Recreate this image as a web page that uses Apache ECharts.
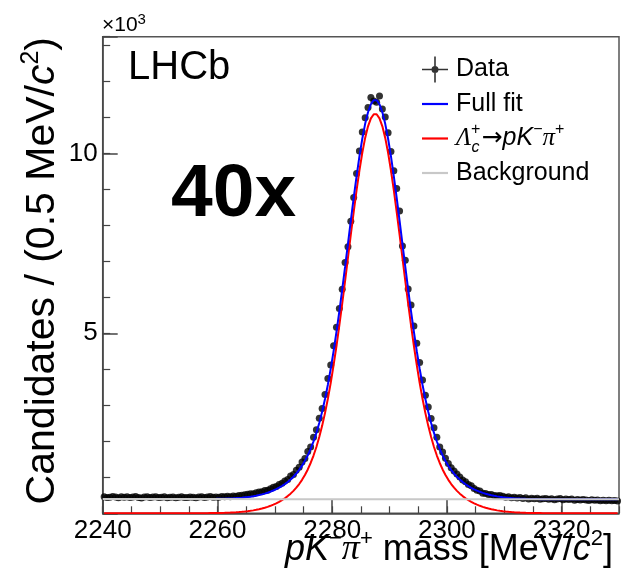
<!DOCTYPE html>
<html><head><meta charset="utf-8">
<script src="https://cdn.jsdelivr.net/npm/echarts@6/dist/echarts.min.js"></script>
<style>html,body{margin:0;padding:0;background:#fff}#c{width:623px;height:584px}</style>
</head><body><div id="c"></div>
<script>
// ---- data ----
const massMin = 2240, massMax = 2330, binWidth = 0.5;
const xTickValues = [2240, 2260, 2280, 2300, 2320];
const yTickValues = [5000, 10000];
const yTickLabels = ['5', '10'];

const counts = [458,441,446,466,451,431,457,444,462,437,
453,466,442,428,451,458,436,450,462,439,
446,457,435,449,455,432,446,461,441,436,
450,446,432,454,460,440,452,465,445,456,
449,469,459,472,459,481,477,497,502,516,
531,545,545,568,593,598,636,642,684,727,
747,800,832,897,939,1033,1081,1195,1281,1422,
1521,1715,1844,2111,2319,2642,2914,3297,3744,4117,
4656,5168,5690,6224,6964,7407,8111,8770,9440,10064,
10595,10989,11272,11554,11457,11420,11594,11230,11010,10570,
10051,9517,9020,8400,7424,7031,6231,5787,5205,4722,
4191,3702,3279,2955,2633,2379,2111,1844,1700,1530,
1380,1268,1177,1093,1006,928,873,800,762,691,
640,620,556,548,525,520,492,487,493,476,
449,463,434,448,426,438,412,430,397,415,
404,420,393,403,413,392,405,379,398,409,
377,395,380,396,366,383,368,386,369,355,
378,360,371,350,364,349,364,347,358,345];

const signalFit = [0,0,0,0,0,0,0,0,0,0,
0,0,0,0,0,0,0,0,0,0,
0,0,0,0,0,0,0,0,0,0,
0,1,1,2,2,3,4,5,6,7,
9,11,13,16,19,23,28,34,41,49,
58,69,81,96,113,132,154,179,208,240,
277,318,365,418,478,546,623,712,813,930,
1064,1219,1398,1605,1843,2117,2429,2783,3181,3625,
4114,4647,5219,5823,6453,7096,7740,8369,8969,9523,
10014,10428,10751,10973,11086,11086,10973,10751,10428,10014,
9523,8969,8369,7740,7096,6453,5823,5219,4647,4114,
3625,3181,2783,2429,2117,1843,1605,1398,1219,1064,
930,813,712,623,546,478,418,365,318,277,
240,208,179,154,132,113,96,81,69,58,
49,41,34,28,23,19,16,13,11,9,
7,6,5,4,3,2,2,1,1,0,
0,0,0,0,0,0,0,0,0,0,
0,0,0,0,0,0,0,0,0,0];

const fullFit = [396,396,396,396,396,396,396,396,396,396,
396,395,395,395,395,395,395,395,395,395,
395,395,395,395,395,395,395,395,395,395,
395,395,395,396,396,397,398,399,400,401,
403,405,407,410,413,417,422,428,435,443,
452,462,474,489,506,525,547,572,601,633,
670,711,758,811,871,939,1016,1105,1206,1323,
1457,1611,1790,1997,2235,2509,2821,3175,3573,4017,
4506,5039,5611,6215,6845,7488,8132,8761,9361,9915,
10406,10819,11142,11364,11477,11477,11364,11142,10819,10405,
9914,9360,8760,8131,7487,6844,6214,5610,5038,4505,
4016,3571,3173,2819,2507,2233,1995,1788,1609,1454,
1320,1203,1102,1013,936,868,808,755,708,667,
630,597,568,543,521,502,485,470,458,447,
438,430,423,417,412,408,405,402,400,398,
396,394,393,392,391,390,390,389,389,388,
388,388,388,388,388,388,388,388,388,388,
388,387,387,387,387,387,387,387,387,387];

const bgMass = [2240,2250,2260,2270,2280,2290,2300,2310,2320,2330];
const bgValues = [396,395,394,393,392,391,390,389,388,387];

// ---- build ----
const binCentres = counts.map((_, i) => massMin + binWidth * (i + 0.5));
const pairs = (xs, ys) => ys.map((y, i) => [xs[i], y]);

const FONT = 'Liberation Sans';
const chart = echarts.init(document.getElementById('c'), null, {renderer: 'canvas'});

const tickColor = '#444';
const dataIcon = 'path://M0,12.2H26V13.8H0Z M12.2,0H13.8V26H12.2Z M16.5,13A3.5,3.5 0 1 1 9.5,13A3.5,3.5 0 1 1 16.5,13Z';
const lineIcon = 'path://M0,0H26V2.2H0Z';

const option = {
  animation: false,
  backgroundColor: '#fff',
  grid: {left: 102.7, right: 4, top: 36.7, bottom: 70.7, show: true, borderColor: '#555', borderWidth: 1.5},
  xAxis: [
    {type: 'value', min: massMin, max: massMax, interval: 20, position: 'bottom',
     axisLine: {show: true, lineStyle: {color: tickColor, width: 1.5}},
     axisTick: {show: true, inside: true, length: 14, lineStyle: {color: tickColor, width: 1.5}},
     axisLabel: {show: true, fontSize: 26, fontFamily: FONT, color: '#000', margin: 5, showMaxLabel: false,
       formatter: v => xTickValues.includes(v) ? String(v) : ''},
     splitLine: {show: false}},
    {type: 'value', min: massMin, max: massMax, interval: 5, position: 'bottom',
     axisLine: {show: false},
     axisTick: {show: true, inside: true, length: 7, lineStyle: {color: tickColor, width: 1.2}},
     axisLabel: {show: false}, splitLine: {show: false}}
  ],
  yAxis: [
    {type: 'value', min: 0, max: 13240, interval: 5000, position: 'left',
     axisLine: {show: true, lineStyle: {color: tickColor, width: 1.5}},
     axisTick: {show: true, inside: true, length: 15, lineStyle: {color: tickColor, width: 1.5}},
     axisLabel: {show: true, fontSize: 26, fontFamily: FONT, color: '#000', margin: 5,
       formatter: v => { const j = yTickValues.indexOf(v); return j >= 0 ? yTickLabels[j] : ''; }},
     splitLine: {show: false}},
    {type: 'value', min: 0, max: 13240, interval: 1000, position: 'left',
     axisLine: {show: false},
     axisTick: {show: true, inside: true, length: 7.5, lineStyle: {color: tickColor, width: 1.2}},
     axisLabel: {show: false}, splitLine: {show: false}}
  ],
  legend: {
    orient: 'vertical', left: 417, top: 47.5, itemGap: 0.5, itemWidth: 26, itemHeight: 26,
    selectedMode: false,
    textStyle: {fontSize: 25, fontFamily: FONT, color: '#000', lineHeight: 34, padding: [0, 0, 0, 3],
      rich: {
        n: {fontSize: 25, fontFamily: FONT, lineHeight: 34},
        i: {fontSize: 25, fontFamily: FONT, fontStyle: 'italic', lineHeight: 34},
        g: {fontSize: 25, fontFamily: 'Liberation Serif', fontStyle: 'italic', lineHeight: 34},
        s: {fontSize: 16, fontFamily: FONT, verticalAlign: 'top', lineHeight: 24},
        sp: {fontSize: 16, fontFamily: FONT, verticalAlign: 'top', lineHeight: 26, width: 0.5},
        sb: {fontSize: 16, fontFamily: FONT, fontStyle: 'italic', verticalAlign: 'bottom', lineHeight: 26, padding: [0, 2, 0, 0]},
        ar: {fontSize: 25, fontFamily: 'DejaVu Sans', lineHeight: 34}
      }},
    formatter: name => name === 'signal' ? '{g|Λ}{sp|+}{sb|c}{ar|→}{i|pK}{s|−}{g|π}{s|+}' : name,
    data: [{name: 'Data', icon: dataIcon}, {name: 'Full fit', icon: lineIcon},
           {name: 'signal', icon: lineIcon}, {name: 'Background', icon: lineIcon}]
  },
  graphic: [
    {type: 'text', x: 102, y: 25.5, silent: true,
     style: {text: '{n|×10}{s|3}', fill: '#000', align: 'left', verticalAlign: 'middle',
       rich: {n: {fontSize: 21, fontFamily: FONT, lineHeight: 26},
              s: {fontSize: 15, fontFamily: FONT, verticalAlign: 'top', lineHeight: 13}}}},
    {type: 'text', x: 128, y: 67.5, silent: true,
     style: {text: 'LHCb', fontSize: 40, fontFamily: FONT, fill: '#000', align: 'left', verticalAlign: 'middle'}},
    {type: 'text', x: 171, y: 195, silent: true,
     style: {text: '40x', fontSize: 75, fontWeight: 'bold', fontFamily: FONT, fill: '#000', align: 'left', verticalAlign: 'middle'}},
    {type: 'text', x: 613, y: 550, silent: true,
     style: {text: '{i|pK}{s|−}{g|π}{s|+}{n| mass [MeV/}{i|c}{s|2}{n|]}', fill: '#000', align: 'right', verticalAlign: 'middle',
       rich: {
         n: {fontSize: 36, fontFamily: FONT, lineHeight: 44},
         i: {fontSize: 36, fontFamily: FONT, fontStyle: 'italic', lineHeight: 44},
         g: {fontSize: 36, fontFamily: 'Liberation Serif', fontStyle: 'italic', lineHeight: 44},
         s: {fontSize: 22, fontFamily: FONT, verticalAlign: 'top', lineHeight: 28}
       }}},
    {type: 'text', x: 43, y: 37, rotation: Math.PI / 2, silent: true,
     style: {text: '{n|Candidates / (0.5 MeV/}{i|c}{s|2}{n|)}', fill: '#000', align: 'right', verticalAlign: 'middle',
       rich: {
         n: {fontSize: 41, fontFamily: FONT, lineHeight: 48},
         i: {fontSize: 41, fontFamily: FONT, fontStyle: 'italic', lineHeight: 48},
         s: {fontSize: 25, fontFamily: FONT, verticalAlign: 'top', lineHeight: 31}
       }}}
  ],
  series: [
    {name: 'Data', type: 'scatter', xAxisIndex: 0, yAxisIndex: 0, data: pairs(binCentres, counts),
     symbol: 'circle', symbolSize: 7, itemStyle: {color: '#000'}, z: 2, silent: true},
    {name: 'signal', type: 'line', xAxisIndex: 0, yAxisIndex: 0, data: pairs(binCentres, signalFit),
     symbol: 'none', lineStyle: {color: '#ff0000', width: 2}, itemStyle: {color: '#ff0000'}, z: 3, silent: true},
    {name: 'Full fit', type: 'line', xAxisIndex: 0, yAxisIndex: 0, data: pairs(binCentres, fullFit),
     symbol: 'none', lineStyle: {color: '#0000ff', width: 2}, itemStyle: {color: '#0000ff'}, z: 4, silent: true},
    {name: 'Background', type: 'line', xAxisIndex: 0, yAxisIndex: 0, data: pairs(bgMass, bgValues),
     symbol: 'none', lineStyle: {color: '#c8c8c8', width: 2}, itemStyle: {color: '#c8c8c8'}, z: 5, silent: true}
  ]
};
chart.setOption(option);
</script>
</body></html>
